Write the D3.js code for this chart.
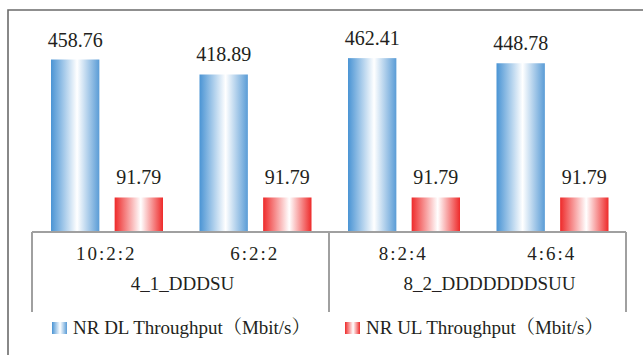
<!DOCTYPE html>
<html>
<head>
<meta charset="utf-8">
<script src="https://cdn.jsdelivr.net/npm/d3@7"></script>
<style>
  body { margin: 0; background: #fff; }
</style>
</head>
<body>
<svg id="ChartSvg" width="643" height="355" font-family="'Liberation Serif', 'DejaVu Serif', 'Noto Serif', 'Noto Serif CJK SC', 'Nimbus Roman', 'FreeSerif', Tinos, serif"></svg>
<script>
var ChartSvg = d3.select("#ChartSvg")

// data
var ratios = ['10:2:2', '6:2:2', '8:2:4', '4:6:4']
var frames = ['4_1_DDDSU', '8_2_DDDDDDDSUU']
var frameOf = [0, 0, 1, 1]
var series = ['NR DL Throughput（Mbit/s）', 'NR UL Throughput（Mbit/s）']
var dlValues = [458.76, 418.89, 462.41, 448.78]
var ulValues = [91.79, 91.79, 91.79, 91.79]

var AxisLeft = 32, AxisRight = 626, Base = 232
var edgeColor = ['#4a94d4', '#ee2a2a']
var textColor = '#231f20'

// gradients for the bars
var defs = ChartSvg.append('defs')
edgeColor.forEach(function (c, i) {
    var g = defs.append('linearGradient').attr('id', 'grad' + i)
        .attr('x1', '0').attr('x2', '1').attr('y1', '0').attr('y2', '0')
    g.append('stop').attr('offset', '0%').attr('stop-color', c)
    g.append('stop').attr('offset', '54%').attr('stop-color', '#ffffff')
    g.append('stop').attr('offset', '100%').attr('stop-color', i == 0 ? '#5a9cd6' : c)
})

// frame
ChartSvg.append('path')
    .attr('d', 'M8,355 L8,10 L643,10')
    .attr('fill', 'none').attr('stroke', '#6b6b6b').attr('stroke-width', 1.6)

var xScale = d3.scaleBand().domain(ratios).range([AxisLeft, AxisRight]).paddingInner(0).paddingOuter(0)
var xSub = d3.scaleBand().domain([0, 1]).range([19, 131]).paddingInner(0.24)
var yScale = d3.scaleLinear().domain([0, 500]).range([Base, 44])

var groups = ChartSvg.selectAll('.grp').data(ratios).enter().append('g')
    .attr('transform', d => `translate(${xScale(d)},0)`)

groups.each(function (d, i) {
    var vals = [dlValues[i], ulValues[i]]
    var g = d3.select(this)
    vals.forEach(function (v, s) {
        g.append('rect')
            .attr('x', xSub(s)).attr('y', yScale(v))
            .attr('width', xSub.bandwidth()).attr('height', Base - yScale(v))
            .attr('fill', 'url(#grad' + s + ')')
        g.append('text')
            .attr('x', xSub(s) + xSub.bandwidth() / 2).attr('y', yScale(v) - 13)
            .attr('text-anchor', 'middle').attr('font-size', '20px')
            .attr('fill', textColor)
            .text(v.toFixed(2))
    })
})

// axis line and ticks
ChartSvg.append('line')
    .attr('x1', AxisLeft).attr('x2', AxisRight).attr('y1', Base).attr('y2', Base)
    .attr('stroke', '#a0a0a0').attr('stroke-width', 2)
var bounds = [AxisLeft, xScale(ratios[2]), AxisRight]
bounds.forEach(function (x) {
    ChartSvg.append('line')
        .attr('x1', x).attr('x2', x).attr('y1', Base).attr('y2', 312)
        .attr('stroke', '#a0a0a0').attr('stroke-width', 2)
})

ratios.forEach(function (r) {
    ChartSvg.append('text')
        .attr('x', xScale(r) + xScale.bandwidth() / 2).attr('y', 260)
        .attr('text-anchor', 'middle').attr('font-size', '19px')
        .attr('letter-spacing', '2px').attr('fill', textColor)
        .text(r)
})
frames.forEach(function (f, k) {
    var members = ratios.filter((r, i) => frameOf[i] == k)
    var x0 = xScale(members[0]), x1 = xScale(members[members.length - 1]) + xScale.bandwidth()
    ChartSvg.append('text')
        .attr('x', (x0 + x1) / 2 + (k == 1 ? 12 : 2)).attr('y', 290)
        .attr('text-anchor', 'middle').attr('font-size', '19px')
        .attr('fill', textColor)
        .text(f)
})

// legend
var legendX = [52, 345]
series.forEach(function (s, i) {
    ChartSvg.append('rect')
        .attr('x', legendX[i]).attr('y', 322).attr('width', 15).attr('height', 12)
        .attr('fill', 'url(#grad' + i + ')')
    ChartSvg.append('text')
        .attr('x', legendX[i] + 21).attr('y', 334)
        .attr('font-size', '19px').attr('fill', textColor)
        .text(s)
})
</script>
</body>
</html>
